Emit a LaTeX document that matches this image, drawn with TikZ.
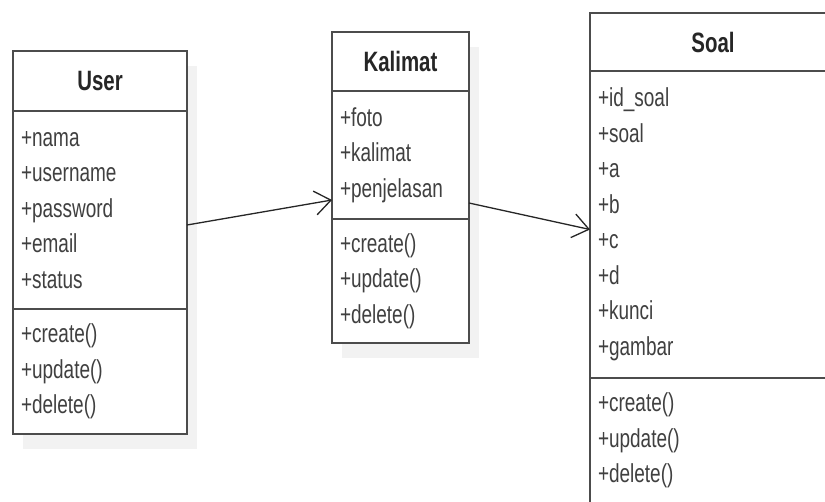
\documentclass[tikz,border=0pt]{standalone}
\usepackage{fontspec}
\setmainfont{Liberation Sans}[FakeStretch=0.73]
\usetikzlibrary{positioning,arrows.meta,shadows}
\tikzset{
  part/.style={draw=black!70, line width=1.3pt, fill=white, outer sep=0pt, inner xsep=8pt, inner ysep=0pt,
    drop shadow={shadow xshift=10pt, shadow yshift=-15pt, fill=black!5, opacity=1}},
  head/.style={part, font=\fontsize{28}{34}\selectfont\bfseries, text=black!85},
  body/.style={part, font=\fontsize{26}{35.5}\selectfont, text=black!75, align=left},
  assoc/.style={-{Straight Barb[length=16pt,width=24pt]}, line width=1.3pt, draw=black!85}
}
\begin{document}
\begin{tikzpicture}[x=1pt, y=-1pt]
            \useasboundingbox (0, 0) rectangle (825, 501);
            \clip (0, 0) rectangle (825, 501);
            \fill [white] (0, 0) rectangle (825, 501);

            \node [head, minimum width=174pt, minimum height=60pt, anchor=north west] (userHead) at (13, 51) {User};
            \node [body, text width=158pt, minimum height=198pt, below=0pt of userHead] (userAttr) {+nama\\+username\\+password\\+email\\+status};
            \node [body, text width=158pt, minimum height=125pt, below=0pt of userAttr] (userOps) {+create()\\+update()\\+delete()};

            \node [head, minimum width=137pt, minimum height=59pt, anchor=north west] (kalHead) at (332, 32) {Kalimat};
            \node [body, text width=121pt, minimum height=128pt, below=0pt of kalHead] (kalAttr) {+foto\\+kalimat\\+penjelasan};
            \node [body, text width=121pt, minimum height=124pt, below=0pt of kalAttr] (kalOps) {+create()\\+update()\\+delete()};

            \node [head, minimum width=246pt, minimum height=58pt, anchor=north west] (soalHead) at (590, 13) {Soal};
            \node [body, text width=230pt, minimum height=307pt, below=0pt of soalHead] (soalAttr) {+id\_soal\\+soal\\+a\\+b\\+c\\+d\\+kunci\\+gambar};
            \node [body, text width=230pt, minimum height=125pt, below=0pt of soalAttr] (soalOps) {+create()\\+update()\\+delete()};

            \draw [assoc] ([yshift=-15pt]userAttr.east) -- ([yshift=-45pt]kalAttr.west);
            \draw [assoc] ([yshift=-48pt]kalAttr.east) -- ([yshift=-5pt]soalAttr.west);
\end{tikzpicture}
\end{document}
